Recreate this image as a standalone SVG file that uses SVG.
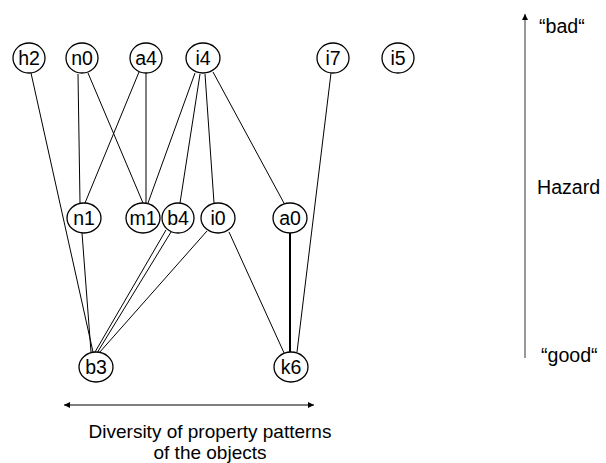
<svg xmlns="http://www.w3.org/2000/svg" width="606" height="463" viewBox="0 0 606 463">
<style>
.n ellipse{fill:#fff;stroke:#000;stroke-width:1.3}
.n text{font-family:"Liberation Sans",Arial,sans-serif;font-size:19.5px;text-anchor:middle;fill:#000}
.e line{stroke:#000;stroke-width:1}
.t{font-family:"Liberation Sans",Arial,sans-serif;font-size:19.6px;fill:#000}
.b{font-family:"Liberation Sans",Arial,sans-serif;font-size:19px;fill:#000;text-anchor:middle}
</style>
<defs>
<marker id="ah" markerWidth="8" markerHeight="8" refX="6" refY="3" orient="auto" markerUnits="userSpaceOnUse">
<path d="M0,0 L6,3 L0,6 Z" fill="#000"/>
</marker>
<marker id="as" markerWidth="8" markerHeight="8" refX="0" refY="3" orient="auto" markerUnits="userSpaceOnUse">
<path d="M6,0 L0,3 L6,6 Z" fill="#000"/>
</marker>
</defs>
<g id="connectors" class="e">
<line x1="31" y1="73" x2="93" y2="352"/>
<line x1="78" y1="74" x2="80" y2="203"/>
<line x1="88" y1="73" x2="143" y2="203"/>
<line x1="139" y1="72" x2="85" y2="203"/>
<line x1="146" y1="73" x2="146" y2="203"/>
<line x1="195" y1="73" x2="148" y2="203"/>
<line x1="200" y1="74" x2="180" y2="203"/>
<line x1="205" y1="74" x2="214" y2="203"/>
<line x1="213" y1="72" x2="285" y2="205"/>
<line x1="82" y1="233" x2="91" y2="352"/>
<line x1="166" y1="230" x2="95" y2="352"/>
<line x1="171" y1="232" x2="97" y2="353"/>
<line x1="207" y1="231" x2="99" y2="353"/>
<line x1="229" y1="232" x2="285" y2="355"/>
<line x1="289.5" y1="233" x2="289.5" y2="352"/>
<line x1="290.5" y1="233" x2="290.5" y2="352"/>
<line x1="331" y1="73" x2="297" y2="352"/>
</g>
<g id="h2" class="n"><ellipse cx="29" cy="58" rx="16" ry="15"/><text x="29" y="65">h2</text></g>
<g id="n0" class="n"><ellipse cx="82" cy="58" rx="16" ry="15"/><text x="82" y="65">n0</text></g>
<g id="a4" class="n"><ellipse cx="146" cy="58" rx="16" ry="15"/><text x="146" y="65">a4</text></g>
<g id="i4" class="n"><ellipse cx="203" cy="58" rx="17" ry="15"/><text x="203" y="65">i4</text></g>
<g id="i7" class="n"><ellipse cx="333" cy="58" rx="16" ry="15"/><text x="333" y="65">i7</text></g>
<g id="i5" class="n"><ellipse cx="398" cy="58" rx="16" ry="15"/><text x="398" y="65">i5</text></g>
<g id="n1" class="n"><ellipse cx="84" cy="218" rx="17" ry="15"/><text x="84" y="225">n1</text></g>
<g id="m1" class="n"><ellipse cx="143" cy="218" rx="17" ry="15"/><text x="143" y="225">m1</text></g>
<g id="b4" class="n"><ellipse cx="178" cy="218" rx="16" ry="15"/><text x="178" y="225">b4</text></g>
<g id="i0" class="n"><ellipse cx="218" cy="218" rx="17" ry="15"/><text x="218" y="225">i0</text></g>
<g id="a0" class="n"><ellipse cx="290" cy="218" rx="17" ry="15"/><text x="290" y="225">a0</text></g>
<g id="b3" class="n"><ellipse cx="96" cy="367" rx="17" ry="15"/><text x="96" y="374">b3</text></g>
<g id="k6" class="n"><ellipse cx="291" cy="367" rx="17" ry="15"/><text x="291" y="374">k6</text></g>
<g id="axes">
<line x1="525" y1="358" x2="525" y2="14" stroke="#555" stroke-width="1.2" marker-end="url(#ah)"/>
<line x1="64" y1="405" x2="314" y2="405" stroke="#000" stroke-width="1.2" marker-start="url(#as)" marker-end="url(#ah)"/>
<text class="t" x="539" y="33">“bad“</text>
<text class="t" x="537" y="194">Hazard</text>
<text class="t" x="541" y="362">“good“</text>
<text class="b" x="210" y="438">Diversity of property patterns</text>
<text class="b" x="210" y="459">of the objects</text>
</g>
</svg>
